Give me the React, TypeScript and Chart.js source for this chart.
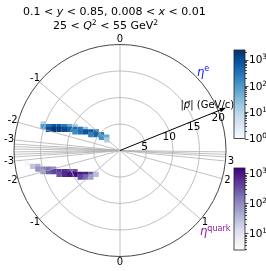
import React, { useEffect, useRef } from "react";
import { Chart, registerables } from "chart.js";

Chart.register(...registerables);

// ---------------- data ----------------
const P_MAX = 20; // GeV/c, outer circle
const P_RINGS = [5, 10, 15, 20];
const P_TICKS = [5, 10, 15, 20];
const P_ARROW_LENGTH = 21.3;
const P_AXIS_ANGLE_DEG = 22;

const ETA_E_GRID = [0, -1, -2, -3, -3.5, -4, -5];
const ETA_E_TICKS = [0, -1, -2, -3];
const ETA_Q_GRID = [-5, -4, -3.5, -3, -2, -1, 0, 1, 2, 3, 3.5, 4, 5];
const ETA_Q_TICKS = [-3, -2, -1, 0, 1, 2, 3];

// scattered electron: cells in (pz, pT) [GeV/c], entries
const ELEC_PZ = [-14.5, -14.5, -13.5, -13.5, -12.5, -12.5, -11.5, -11.5, -10.5, -10.5, -9.5, -9.5, -8.5, -8.5, -8.5, -7.5, -7.5, -7.5, -6.5, -6.5, -5.5, -5.5, -4.5, -4.5, -3.5, -3.5, -2.5, -2.5];
const ELEC_PT = [5.0, 4.5, 4.5, 4.0, 4.5, 4.0, 4.5, 4.0, 4.5, 4.0, 4.5, 4.0, 4.5, 4.0, 3.5, 4.0, 4.0, 3.5, 4.0, 3.5, 3.5, 3.0, 3.5, 3.0, 3.0, 2.5, 2.5, 2.0];
const ELEC_COUNTS = [10, 90, 300, 900, 700, 1800, 600, 1500, 250, 1000, 60, 500, 15, 400, 150, 12, 250, 350, 20, 800, 700, 200, 300, 500, 250, 120, 60, 12];

// struck quark: cells in (pz, |pT|) [GeV/c], entries (drawn below the axis)
const QUARK_PZ = [-17.5, -16.5, -15.5, -15.5, -14.5, -14.5, -13.5, -13.5, -12.5, -12.5, -11.5, -11.5, -10.5, -10.5, -9.5, -9.5, -8.5, -8.5, -7.5, -7.5, -6.5, -6.5, -5.5, -5.5, -4.5];
const QUARK_PT = [2.5, 3.0, 3.0, 3.5, 3.5, 4.0, 3.5, 4.0, 3.5, 4.0, 4.0, 4.5, 4.0, 4.5, 4.0, 4.5, 4.0, 4.5, 4.5, 5.0, 4.5, 5.0, 4.5, 5.0, 4.5];
const QUARK_COUNTS = [4, 25, 40, 80, 120, 60, 150, 250, 100, 400, 500, 300, 600, 700, 400, 1000, 300, 1300, 1000, 400, 800, 200, 300, 60, 30];

const ELEC_CBAR_RANGE = [1, 2300];
const QUARK_CBAR_RANGE = [2.8, 1500];
const ELEC_CBAR_TICKS = [1, 10, 100, 1000];
const QUARK_CBAR_TICKS = [10, 100, 1000];

// ---------------- styles ----------------
const BLUES = ["#f7fbff", "#deebf7", "#c6dbef", "#9ecae1", "#6baed6", "#4292c6", "#2171b5", "#08519c", "#08306b"];
const PURPLES = ["#fcfbfd", "#efedf5", "#dadaeb", "#bcbddc", "#9e9ac8", "#807dba", "#6a51a3", "#54278f", "#3f007d"];
const FONT = "'DejaVu Sans', 'Liberation Sans', sans-serif";

function hexToRgb(h: string) {
  const n = parseInt(h.slice(1), 16);
  return [(n >> 16) & 255, (n >> 8) & 255, n & 255];
}
function cmap(stops: string[], t: number) {
  const tt = Math.min(1, Math.max(0, t));
  const n = stops.length - 1;
  const f = tt * n;
  const i = Math.min(n - 1, Math.floor(f));
  const u = f - i;
  const a = hexToRgb(stops[i]);
  const b = hexToRgb(stops[i + 1]);
  const c = a.map((v, k) => Math.round(v + (b[k] - v) * u));
  return `rgb(${c[0]},${c[1]},${c[2]})`;
}
function logNorm(v: number, r: number[]) {
  return Math.log(v / r[0]) / Math.log(r[1] / r[0]);
}
const etaToTheta = (eta: number) => 2 * Math.atan(Math.exp(-eta));

type Seg = [string, "n" | "i" | "s"];
function drawRich(ctx: CanvasRenderingContext2D, segs: Seg[], x: number, y: number, size: number, color: string) {
  let cx = x;
  ctx.fillStyle = color;
  ctx.textAlign = "left";
  ctx.textBaseline = "alphabetic";
  for (const [t, s] of segs) {
    if (s === "s") {
      ctx.font = `${size * 0.7}px ${FONT}`;
      ctx.fillText(t, cx, y - size * 0.38);
    } else {
      ctx.font = `${s === "i" ? "italic " : ""}${size}px ${FONT}`;
      ctx.fillText(t, cx, y);
    }
    cx += ctx.measureText(t).width;
  }
  return cx - x;
}

function drawColorbar(
  ctx: CanvasRenderingContext2D,
  stops: string[],
  range: number[],
  ticks: number[],
  left: number,
  top: number,
  width: number,
  height: number
) {
  const bottom = top + height;
  const grad = ctx.createLinearGradient(0, bottom, 0, top);
  for (let k = 0; k <= 32; k++) grad.addColorStop(k / 32, cmap(stops, k / 32));
  ctx.fillStyle = grad;
  ctx.fillRect(left, top, width, height);
  ctx.strokeStyle = "#222";
  ctx.lineWidth = 0.8;
  ctx.strokeRect(left, top, width, height);
  const yOf = (v: number) => bottom - logNorm(v, range) * height;
  ctx.beginPath();
  const d0 = Math.floor(Math.log10(range[0]));
  const d1 = Math.ceil(Math.log10(range[1]));
  for (let d = d0; d <= d1; d++) {
    for (let m = 1; m <= 9; m++) {
      const v = m * Math.pow(10, d);
      if (v < range[0] * 0.999 || v > range[1]) continue;
      const y = Math.round(yOf(v)) + 0.5;
      const len = m === 1 ? 3.5 : 2;
      ctx.moveTo(left + width, y);
      ctx.lineTo(left + width + len, y);
    }
  }
  ctx.stroke();
  for (const v of ticks) {
    const y = yOf(v);
    const e = Math.round(Math.log10(v));
    drawRich(ctx, [["10", "n"], [String(e), "s"]], left + width + 4, y + 3.8, 10.5, "#000");
  }
}

const polarPlugin = {
  id: "polarDeco",
  afterDatasetsDraw(chart: any) {
    const ctx: CanvasRenderingContext2D = chart.ctx;
    const sx = chart.scales.x;
    const sy = chart.scales.y;
    const X = (v: number) => sx.getPixelForValue(v);
    const Y = (v: number) => sy.getPixelForValue(v);
    const cx = X(0);
    const cy = Y(0);
    const rpx = (p: number) => X(p) - cx;
    ctx.save();

    // rings
    ctx.strokeStyle = "#b0b0b0";
    ctx.lineWidth = 0.8;
    for (const p of P_RINGS) {
      if (p >= P_MAX) continue;
      ctx.beginPath();
      ctx.arc(cx, cy, rpx(p), 0, Math.PI * 2);
      ctx.stroke();
    }
    // eta spokes
    ctx.beginPath();
    for (const eta of ETA_E_GRID) {
      const th = etaToTheta(eta);
      ctx.moveTo(cx, cy);
      ctx.lineTo(X(P_MAX * Math.cos(th)), Y(P_MAX * Math.sin(th)));
    }
    for (const eta of ETA_Q_GRID) {
      const th = etaToTheta(eta);
      ctx.moveTo(cx, cy);
      ctx.lineTo(X(P_MAX * Math.cos(th)), Y(-P_MAX * Math.sin(th)));
    }
    ctx.stroke();
    // outer circle
    ctx.strokeStyle = "#333";
    ctx.lineWidth = 0.9;
    ctx.beginPath();
    ctx.arc(cx, cy, rpx(P_MAX), 0, Math.PI * 2);
    ctx.stroke();

    // eta tick labels
    ctx.fillStyle = "#000";
    ctx.font = `10px ${FONT}`;
    ctx.textAlign = "center";
    ctx.textBaseline = "middle";
    const lr = rpx(P_MAX) + 5.5;
    for (const eta of ETA_E_TICKS) {
      const th = etaToTheta(eta);
      ctx.fillText(String(eta), cx + lr * Math.cos(th), cy - lr * Math.sin(th));
    }
    for (const eta of ETA_Q_TICKS) {
      const th = etaToTheta(eta);
      ctx.fillText(String(eta), cx + lr * Math.cos(th), cy + lr * Math.sin(th));
    }

    // momentum axis arrow
    const a = (P_AXIS_ANGLE_DEG * Math.PI) / 180;
    const tx = X(P_ARROW_LENGTH * Math.cos(a));
    const ty = Y(P_ARROW_LENGTH * Math.sin(a));
    ctx.strokeStyle = "#000";
    ctx.lineWidth = 1;
    ctx.beginPath();
    ctx.moveTo(cx, cy);
    ctx.lineTo(tx, ty);
    ctx.stroke();
    const ang = Math.atan2(ty - cy, tx - cx);
    ctx.fillStyle = "#000";
    ctx.beginPath();
    ctx.moveTo(tx + 1.5 * Math.cos(ang), ty + 1.5 * Math.sin(ang));
    ctx.lineTo(tx - 5 * Math.cos(ang) + 2.3 * Math.sin(ang), ty - 5 * Math.sin(ang) - 2.3 * Math.cos(ang));
    ctx.lineTo(tx - 5 * Math.cos(ang) - 2.3 * Math.sin(ang), ty - 5 * Math.sin(ang) + 2.3 * Math.cos(ang));
    ctx.closePath();
    ctx.fill();

    // momentum tick labels
    ctx.font = `10.5px ${FONT}`;
    ctx.textAlign = "center";
    ctx.textBaseline = "middle";
    for (const p of P_TICKS) {
      ctx.fillText(String(p), X(p * Math.cos(a)), Y(p * Math.sin(a)) + 7);
    }
    // axis label
    drawRich(ctx, [["|", "n"], ["p\u20D7", "i"], ["| (GeV/c)", "n"]], 180.5, 107.5, 10, "#000");

    // eta labels of the two halves
    drawRich(ctx, [["\u03B7", "i"], ["e", "s"]], 197, 75.5, 11.5, "#1010ff");
    drawRich(ctx, [["\u03B7", "i"], ["quark", "s"]], 200, 235, 11.5, "#8a1a9a");

    // title
    drawRich(ctx, [["0.1 < ", "n"], ["y", "i"], [" < 0.85, 0.008 < ", "n"], ["x", "i"], [" < 0.01", "n"]], 23, 15, 11, "#000");
    drawRich(ctx, [["25 < ", "n"], ["Q", "i"], ["2", "s"], [" < 55 GeV", "n"], ["2", "s"]], 53, 29, 11, "#000");

    // colour bars
    drawColorbar(ctx, BLUES, ELEC_CBAR_RANGE, ELEC_CBAR_TICKS, 234, 50, 11, 88.5);
    drawColorbar(ctx, PURPLES, QUARK_CBAR_RANGE, QUARK_CBAR_TICKS, 234, 168, 11, 82);

    ctx.restore();
  },
};

export default function App() {
  const ref = useRef<HTMLCanvasElement>(null);
  useEffect(() => {
    const elecColors = ELEC_COUNTS.map((n) => cmap(BLUES, logNorm(n, ELEC_CBAR_RANGE)));
    const quarkColors = QUARK_COUNTS.map((n) => cmap(PURPLES, logNorm(n, QUARK_CBAR_RANGE)));
    const chart = new Chart(ref.current!, {
      type: "scatter",
      data: {
        datasets: [
          {
            label: "electron",
            data: ELEC_PZ.map((pz, i) => ({ x: pz, y: ELEC_PT[i] })),
            pointStyle: "rect",
            pointRadius: 3.75,
            borderWidth: 0,
            backgroundColor: elecColors,
          },
          {
            label: "quark",
            data: QUARK_PZ.map((pz, i) => ({ x: pz, y: -QUARK_PT[i] })),
            pointStyle: "rect",
            pointRadius: 3.75,
            borderWidth: 0,
            backgroundColor: quarkColors,
          },
        ],
      },
      options: {
        animation: false,
        responsive: false,
        maintainAspectRatio: false,
        devicePixelRatio: 1,
        events: [],
        layout: { padding: { left: 14, right: 40, top: 44.5, bottom: 14.5 } },
        scales: {
          x: { type: "linear", min: -P_MAX, max: P_MAX, display: false },
          y: { type: "linear", min: -P_MAX, max: P_MAX, display: false },
        },
        plugins: {
          legend: { display: false },
          tooltip: { enabled: false },
          title: { display: false },
        },
      },
      plugins: [polarPlugin],
    });
    return () => chart.destroy();
  }, []);
  return (
    <div style={{ position: "absolute", left: 0, top: 0, width: 266, height: 271, background: "#fff" }}>
      <canvas ref={ref} width={266} height={271} style={{ display: "block", width: 266, height: 271 }} />
    </div>
  );
}
